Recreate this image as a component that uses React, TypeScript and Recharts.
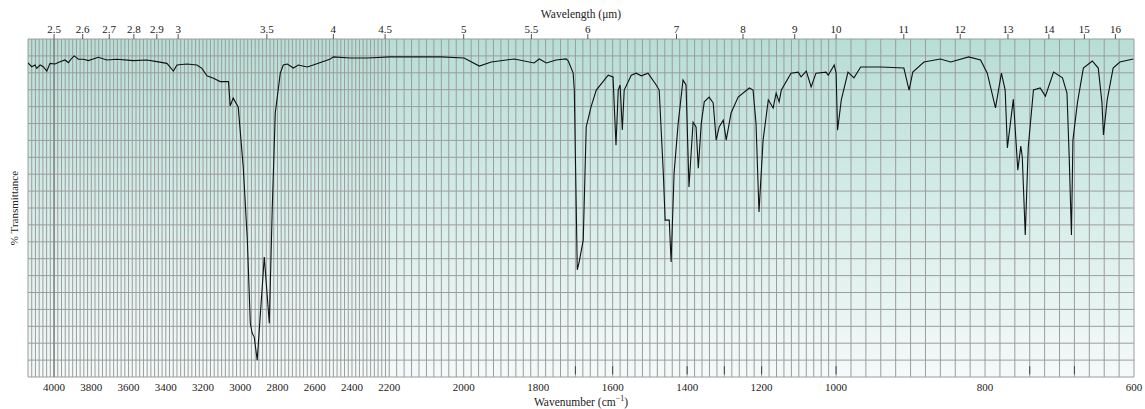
import { LineChart, Line, XAxis, YAxis, CartesianGrid, ReferenceLine } from "recharts";

// wavenumber (cm-1) and % transmittance
const WAVENUMBERS = [
  4140, 4120, 4102, 4093, 4075, 4058, 4039, 4022, 3995, 3968, 3941, 3923, 3905, 3892, 3869, 3842, 3816, 3762, 3717, 3663,
  3574, 3502, 3448, 3394, 3359, 3340, 3287, 3233, 3206, 3179, 3144, 3108, 3063,
  3054, 3038, 3011, 2984, 2962, 2946, 2936, 2925, 2909, 2871, 2844, 2828, 2812, 2785, 2769, 2747, 2715, 2688, 2640, 2608,
  2516, 2500, 2409, 2317, 2200, 2168, 2133, 2060, 1999, 1958, 1926, 1864, 1811, 1797, 1778, 1752, 1725, 1719, 1706, 1703,
  1695, 1690, 1679, 1671, 1658, 1644, 1612, 1599, 1591, 1585, 1580, 1574, 1569, 1550, 1537, 1523, 1505, 1483, 1475, 1464,
  1459, 1448, 1443, 1435, 1424, 1411, 1403, 1395, 1384, 1376, 1370, 1362, 1354, 1341, 1330, 1322, 1314, 1303, 1295, 1282,
  1263, 1233, 1223, 1215, 1207, 1196, 1182, 1169, 1161, 1153, 1147, 1121, 1102, 1094, 1080, 1067, 1054, 1027, 1021, 1005,
  1000, 998, 993, 984, 976, 967, 940, 909, 902, 897, 882, 860, 846, 822, 806, 797, 786, 778, 773, 770,
  762, 756, 752, 750, 746, 742, 735, 726, 719, 708, 696, 690, 687, 684, 682, 676, 668, 656, 648, 643,
  641, 636, 628, 619, 601,
];
const TRANSMITTANCE = [
  92.9, 91.8, 92.3, 91.3, 92.3, 91.8, 90.5, 92.8, 92.6, 93.3, 93.8, 93.0, 94.3, 95.0, 94.0, 94.0, 93.6, 94.6, 93.8, 94.0,
  93.6, 93.8, 93.3, 92.8, 90.5, 92.3, 92.6, 92.3, 91.3, 89.1, 88.4, 87.4, 87.4,
  80.2, 82.5, 79.9, 62.1, 40.5, 15.9, 13.0, 11.8, 5.0, 35.5, 15.9, 50.3, 78.1, 89.9, 92.3, 92.6, 91.4, 92.3, 91.7, 92.3,
  94.1, 94.7, 94.4, 94.4, 94.7, 94.7, 94.7, 94.7, 94.4, 92.0, 93.2, 94.1, 92.9, 94.1, 92.9, 93.8, 94.1, 93.5, 89.9, 84.9,
  31.7, 34.0, 40.5, 74.0, 79.9, 84.9, 89.3, 88.8, 68.6, 84.9, 86.4, 73.1, 84.9, 89.3, 89.9, 89.1, 89.9, 86.4, 84.9, 60.4,
  46.4, 46.4, 34.0, 60.4, 75.1, 87.9, 86.4, 56.2, 75.4, 74.0, 61.8, 75.1, 81.4, 82.8, 81.1, 70.1, 74.0, 76.0, 70.1, 78.1,
  82.8, 85.5, 84.9, 75.1, 48.8, 70.1, 82.0, 79.6, 84.0, 81.4, 84.9, 89.9, 90.2, 88.8, 90.5, 85.8, 89.9, 90.2, 89.3, 92.3,
  89.9, 73.0, 82.0, 90.2, 88.5, 91.7, 91.7, 91.4, 84.9, 90.2, 93.2, 94.1, 93.2, 94.7, 93.8, 89.9, 79.6, 89.9, 84.9, 67.8,
  82.2, 61.2, 68.3, 65.1, 42.0, 68.0, 84.9, 85.5, 83.1, 90.2, 88.5, 84.0, 65.1, 42.0, 70.1, 81.1, 91.4, 93.5, 91.4, 81.1,
  71.6, 82.0, 91.4, 93.2, 94.1,
];

const WAVENUMBER_TICKS = [4000, 3800, 3600, 3400, 3200, 3000, 2800, 2600, 2400, 2200, 2000, 1800, 1600, 1400, 1200, 1000, 800, 600];
const WAVELENGTH_TICKS = [2.5, 2.6, 2.7, 2.8, 2.9, 3, 3.5, 4, 4.5, 5, 5.5, 6, 7, 8, 9, 10, 11, 12, 13, 14, 15, 16];
const TRANSMITTANCE_TICKS = [0, 5, 10, 15, 20, 25, 30, 35, 40, 45, 50, 55, 60, 65, 70, 75, 80, 85, 90, 95, 100];
// small calibration marks along the bottom edge
const MARKERS = [1700, 1600, 1400, 1300, 1200, 1000, 740, 680];

// the paper is compressed above 2200 and stretched below 1000
const LEFT_EDGE = 4140;
const warp = (wn: number) => {
  if (wn >= 2200) return LEFT_EDGE - wn;
  if (wn >= 1000) return LEFT_EDGE - 2200 + 2 * (2200 - wn);
  return LEFT_EDGE - 2200 + 2400 + 4 * (1000 - wn);
};
const U_MAX = warp(600);

const data = WAVENUMBERS.map((wn, i) => ({ u: warp(wn), t: TRANSMITTANCE[i] }));
const gridTicks: number[] = [];
for (let wn = LEFT_EDGE; wn >= 600; wn -= 20) gridTicks.push(warp(wn));

const bottomLabels = new Map(WAVENUMBER_TICKS.map((wn) => [warp(wn), String(wn)]));
const topLabels = new Map(WAVELENGTH_TICKS.map((l) => [warp(10000 / l), String(l)]));

const FONT = "'Liberation Serif', 'Times New Roman', serif";

const TopTitle = (props: any) => {
  const { x, width } = props.viewBox;
  return (
    <text x={x + width / 2} y={18} textAnchor="middle" fontSize={11.5} fill="#222" fontFamily={FONT}>
      Wavelength (μm)
    </text>
  );
};

const BottomTitle = (props: any) => {
  const { x, y, width, height } = props.viewBox;
  return (
    <text x={x + width / 2} y={y + height - 3} textAnchor="middle" fontSize={11.5} fill="#222" fontFamily={FONT}>
      Wavenumber (cm
      <tspan dy={-5} fontSize={8}>−1</tspan>
      <tspan dy={5}>)</tspan>
    </text>
  );
};

export default function App() {
  return (
    <>
      <style>{"html,body{margin:0;padding:0;overflow:hidden}"}</style>
      <LineChart
        width={1145}
        height={409}
        data={data}
        margin={{ top: 0, right: 11, bottom: 0, left: 0 }}
        style={{ fontFamily: FONT }}
      >
        <defs>
          <linearGradient id="paper" x1="0" y1="0" x2="0" y2="1">
            <stop offset="0%" stopColor="#b7ded5" />
            <stop offset="55%" stopColor="#d9eeea" />
            <stop offset="100%" stopColor="#f4faf9" />
          </linearGradient>
        </defs>
        <CartesianGrid xAxisId="grid" yAxisId="grid" stroke="#9c9c9c" strokeWidth={1} fill="url(#paper)" fillOpacity={1} />
        <XAxis xAxisId="grid" type="number" dataKey="u" domain={[0, U_MAX]} ticks={gridTicks} interval={0} allowDataOverflow hide height={0} />
        <YAxis
          yAxisId="grid"
          orientation="right"
          type="number"
          domain={[0, 100]}
          ticks={TRANSMITTANCE_TICKS}
          interval={0}
          allowDataOverflow
          hide
          width={0}
        />
        <XAxis
          xAxisId="bottom"
          type="number"
          dataKey="u"
          domain={[0, U_MAX]}
          ticks={WAVENUMBER_TICKS.map(warp)}
          interval={0}
          allowDataOverflow
          height={32}
          tickLine={false}
          axisLine={false}
          tickSize={0}
          tickMargin={6}
          tick={{ fontSize: 11, fill: "#222" }}
          tickFormatter={(v: number) => bottomLabels.get(v) ?? ""}
          label={{ content: BottomTitle }}
        />
        <XAxis
          xAxisId="top"
          orientation="top"
          type="number"
          dataKey="u"
          domain={[0, U_MAX]}
          ticks={WAVELENGTH_TICKS.map((l) => warp(10000 / l))}
          interval={0}
          allowDataOverflow
          height={39}
          axisLine={false}
          tickLine={{ stroke: "#555" }}
          tickSize={5}
          tickMargin={1}
          tick={{ fontSize: 11, fill: "#222" }}
          tickFormatter={(v: number) => topLabels.get(v) ?? ""}
          label={{ content: TopTitle }}
        />
        <YAxis
          yAxisId="main"
          type="number"
          domain={[0, 100]}
          width={28}
          tick={false}
          tickLine={false}
          axisLine={false}
          label={{ value: "% Transmittance", angle: -90, position: "center", fontSize: 11, fill: "#222" }}
        />
        <ReferenceLine xAxisId="grid" yAxisId="grid" x={warp(4000)} stroke="#858585" strokeWidth={1.5} />
        {MARKERS.map((wn) => (
          <ReferenceLine
            key={wn}
            xAxisId="bottom"
            yAxisId="main"
            segment={[{ x: warp(wn), y: 0.8 }, { x: warp(wn), y: 3.2 }]}
            stroke="#444"
            strokeWidth={1}
          />
        ))}
        <Line
          xAxisId="bottom"
          yAxisId="main"
          dataKey="t"
          type="linear"
          stroke="#111"
          strokeWidth={1.1}
          dot={false}
          isAnimationActive={false}
        />
      </LineChart>
    </>
  );
}
